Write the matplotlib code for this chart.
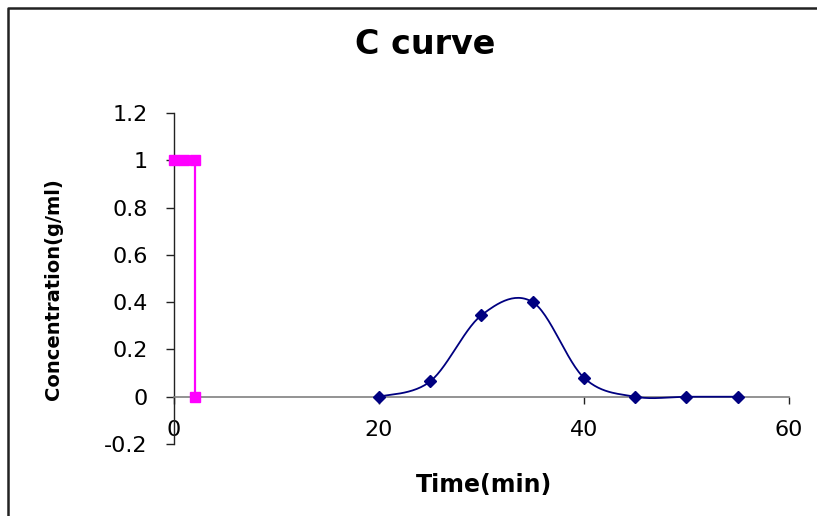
import numpy as np
import matplotlib
matplotlib.use('Agg')
import matplotlib.pyplot as plt
from matplotlib.lines import Line2D

# data
time_min = [20, 25, 30, 35, 40, 45, 50, 55]
conc = [0.0, 0.065, 0.345, 0.40, 0.08, 0.0, 0.0, 0.0]

pulse_x = [0, 1, 2, 2]
pulse_y = [1, 1, 1, 0]

x_ticks = [0, 20, 40, 60]
y_ticks = [-0.2, 0, 0.2, 0.4, 0.6, 0.8, 1.0, 1.2]
y_ticklabels = ['-0.2', '0', '0.2', '0.4', '0.6', '0.8', '1', '1.2']


def smooth(xs, ys, n=30):
    # Catmull-Rom style smoothing like Excel's "smoothed line"
    xs = np.asarray(xs, float)
    ys = np.asarray(ys, float)
    px = np.concatenate([[xs[0]], xs, [xs[-1]]])
    py = np.concatenate([[ys[0]], ys, [ys[-1]]])
    out_x, out_y = [], []
    t = np.linspace(0, 1, n)
    for i in range(1, len(px) - 2):
        p0 = np.array([px[i], py[i]])
        p3 = np.array([px[i + 1], py[i + 1]])
        p1 = p0 + (np.array([px[i + 1], py[i + 1]]) - np.array([px[i - 1], py[i - 1]])) / 6
        p2 = p3 - (np.array([px[i + 2], py[i + 2]]) - np.array([px[i], py[i]])) / 6
        b = ((1 - t) ** 3)[:, None] * p0 + (3 * (1 - t) ** 2 * t)[:, None] * p1 \
            + (3 * (1 - t) * t ** 2)[:, None] * p2 + (t ** 3)[:, None] * p3
        out_x.extend(b[:, 0])
        out_y.extend(b[:, 1])
    return np.array(out_x), np.array(out_y)


plt.rcParams['font.family'] = ['DejaVu Sans']

fig = plt.figure(figsize=(8.17, 5.16), dpi=100)
ax = fig.add_axes([0.213, 0.1395, 0.7527, 0.6415])

sx, sy = smooth(time_min, conc)
ax.plot(sx, sy, color='#000080', lw=1.3, zorder=3)
ax.plot(time_min, conc, 'D', color='#000080', ms=6.5, zorder=4)

ax.plot(pulse_x, pulse_y, color='#FF00FF', lw=1.6, marker='s', ms=7,
        clip_on=False, zorder=5)

ax.set_xlim(0, 60)
ax.set_ylim(-0.2, 1.2)
ax.set_xticks(x_ticks)
ax.set_xticklabels([str(v) for v in x_ticks])
ax.set_yticks(y_ticks)
ax.set_yticklabels(y_ticklabels)

ax.spines['top'].set_visible(False)
ax.spines['right'].set_visible(False)
ax.spines['bottom'].set_position(('data', 0))
ax.spines['bottom'].set_color('#808080')
ax.spines['bottom'].set_linewidth(1.2)
ax.spines['left'].set_color('#222222')
ax.spines['left'].set_linewidth(1.0)

ax.tick_params(axis='x', direction='out', length=5, width=1, color='#222222',
               labelsize=16, pad=12)
ax.tick_params(axis='y', direction='out', length=6, width=1, color='#222222',
               labelsize=16, pad=13)

fig.text(0.520, 0.913, 'C curve', ha='center', va='center',
         fontsize=24, fontweight='bold')
fig.text(0.592, 0.06, 'Time(min)', ha='center', va='center',
         fontsize=17, fontweight='bold')
fig.text(0.065, 0.44, 'Concentration(g/ml)', ha='center', va='center',
         rotation=90, fontsize=14, fontweight='bold')

# chart border (only top and left edges visible in the crop)
x0 = 8 / 817
y0 = 1 - 8 / 516
fig.add_artist(Line2D([x0, x0, 1.0], [0.0, y0, y0], transform=fig.transFigure,
                      color='#222222', lw=1.8))

fig.savefig('out.png', dpi=100)
